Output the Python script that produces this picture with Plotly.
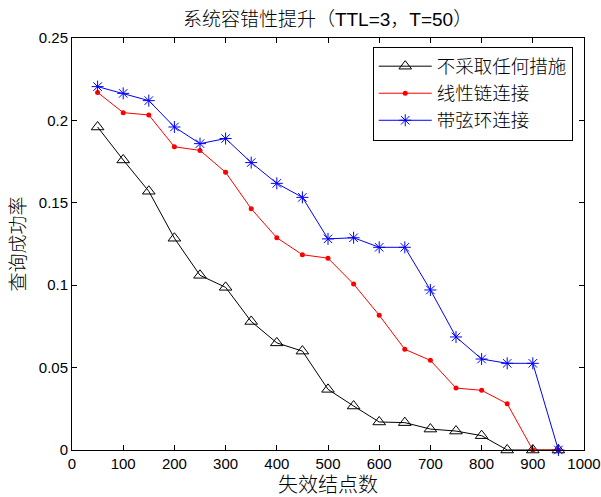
import plotly.graph_objects as go

# Number of failed nodes
failed_nodes = [50, 100, 150, 200, 250, 300, 350, 400, 450, 500,
                550, 600, 650, 700, 750, 800, 850, 900, 950]

# Query success rate for each strategy
no_measure = [0.196, 0.176, 0.157, 0.1285, 0.106, 0.0987, 0.078, 0.065, 0.060, 0.0368,
              0.0267, 0.017, 0.0166, 0.0127, 0.0115, 0.0087, 0.0, 0.0, 0.0]
linear_chain = [0.217, 0.2047, 0.2033, 0.184, 0.1818, 0.1685, 0.1464, 0.1288, 0.1185, 0.1164,
                0.1007, 0.0818, 0.0611, 0.0544, 0.0376, 0.0362, 0.0281, 0.0, 0.0]
chord_ring = [0.2205, 0.2164, 0.212, 0.196, 0.1859, 0.189, 0.1744, 0.1618, 0.1533, 0.1281,
              0.1288, 0.123, 0.123, 0.0971, 0.0686, 0.0552, 0.0526, 0.0526, 0.0]

series_names = ["不采取任何措施", "线性链连接", "带弦环连接"]
x_ticks = [0, 100, 200, 300, 400, 500, 600, 700, 800, 900, 1000]
y_ticks = [0, 0.05, 0.1, 0.15, 0.2, 0.25]
y_tick_text = ["0", "0.05", "0.1", "0.15", "0.2", "0.25"]

FONT = "Liberation Sans, Arial, Noto Sans CJK SC, sans-serif"

fig = go.Figure()
fig.add_trace(go.Scatter(
    x=failed_nodes, y=no_measure, name=series_names[0], mode="lines+markers",
    line=dict(color="black", width=1),
    marker=dict(symbol="triangle-up-open", size=11, color="black", line=dict(width=1)),
    cliponaxis=False,
))
fig.add_trace(go.Scatter(
    x=failed_nodes, y=linear_chain, name=series_names[1], mode="lines+markers",
    line=dict(color="#ff0000", width=1),
    marker=dict(symbol="circle", size=5, color="#ff0000"),
    cliponaxis=False,
))
fig.add_trace(go.Scatter(
    x=failed_nodes, y=chord_ring, name=series_names[2], mode="lines+markers",
    line=dict(color="#0000ff", width=1),
    marker=dict(symbol="asterisk-open", size=10, color="#0000ff", line=dict(width=1, color="#0000ff")),
    cliponaxis=False,
))

axis_common = dict(
    showline=True, linecolor="black", linewidth=1, mirror="ticks",
    ticks="inside", ticklen=5, tickcolor="black", tickwidth=1,
    showgrid=False, zeroline=False, automargin=False,
    tickfont=dict(family=FONT, size=15, color="black"),
)

fig.update_layout(
    width=601, height=497,
    paper_bgcolor="white", plot_bgcolor="white",
    margin=dict(l=72, r=17, t=38, b=47),
    title=dict(text="系统容错性提升（TTL=3，T=50）", x=0.545, xanchor="center",
               yref="container", y=1 - 19 / 497, yanchor="middle",
               font=dict(family=FONT, size=19, color="black", weight=300)),
    xaxis=dict(range=[0, 1000], tickvals=x_ticks,
               title=dict(text="失效结点数", standoff=6,
                          font=dict(family=FONT, size=20, color="black", weight=300)),
               **axis_common),
    yaxis=dict(range=[0, 0.25], tickvals=y_ticks, ticktext=y_tick_text,
               title=dict(text="查询成功率", standoff=8,
                          font=dict(family=FONT, size=19, color="black", weight=300)),
               **axis_common),
    legend=dict(x=0.978, y=0.979, xanchor="right", yanchor="top",
                bgcolor="white", bordercolor="black", borderwidth=1,
                font=dict(family=FONT, size=18.5, color="black", weight=300),
                itemwidth=53, tracegroupgap=0),
    showlegend=True,
)

fig.write_html("out.html")
